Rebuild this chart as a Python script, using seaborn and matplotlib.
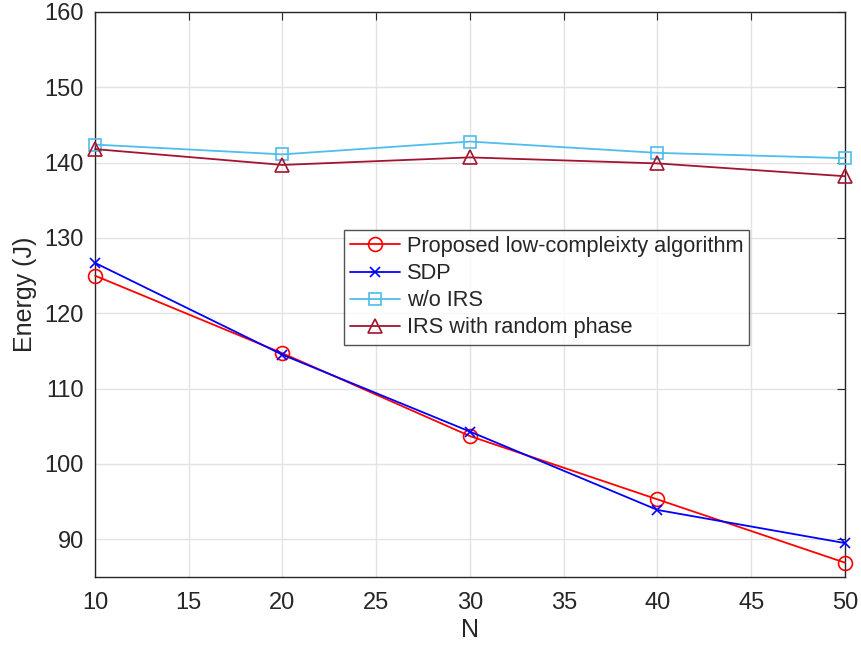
import matplotlib
matplotlib.use("Agg")
import matplotlib.pyplot as plt
import seaborn as sns
import pandas as pd

N = [10, 20, 30, 40, 50]
proposed = [125.0, 114.7, 103.7, 95.3, 86.9]
sdp = [126.7, 114.5, 104.3, 93.9, 89.5]
wo_irs = [142.4, 141.1, 142.8, 141.3, 140.6]
random_phase = [141.8, 139.7, 140.7, 139.9, 138.2]

labels = ["Proposed low-compleixty algorithm", "SDP", "w/o IRS", "IRS with random phase"]
series = [proposed, sdp, wo_irs, random_phase]
colors = ["#FF0000", "#0000FF", "#4DBEEE", "#A2142F"]
markers = ["o", "x", "s", "^"]
msizes = [10, 7, 8, 10]

sns.set_style("white")
plt.rcParams["font.family"] = ["Liberation Sans", "DejaVu Sans"]

fig = plt.figure(figsize=(8.62, 6.49), dpi=100)
ax = fig.add_axes([95/862, 1-577/649, 750/862, 565/649])

for lab, vals, c, m, ms in zip(labels, series, colors, markers, msizes):
    df = pd.DataFrame({"N": N, "E": vals})
    sns.lineplot(data=df, x="N", y="E", ax=ax, color=c, marker=m, markersize=ms,
                 markerfacecolor="none", markeredgecolor=c, markeredgewidth=1.2,
                 linewidth=1.3, label=lab, clip_on=False, zorder=3)

ax.set_xlim(10, 50)
ax.set_ylim(85, 160)
ax.set_xticks(range(10, 51, 5))
ax.set_yticks(range(90, 161, 10))
ax.grid(True, color="#E3E3E3", linewidth=1.0)
ax.set_axisbelow(True)
for s in ax.spines.values():
    s.set_color("#262626")
    s.set_linewidth(1.0)
ax.tick_params(direction="in", length=6, width=0.8, colors="#262626",
               labelsize=17, top=True, right=True)
ax.tick_params(axis="x", pad=11)
ax.tick_params(axis="y", pad=8)
ax.set_xlabel("N", fontsize=18, color="#262626", labelpad=3)
ax.set_ylabel("Energy (J)", fontsize=18, color="#262626", labelpad=5)

leg = ax.legend(loc="upper left", bbox_to_anchor=((344-95)/750, (577-230)/565),
                borderaxespad=0, fontsize=15.7, frameon=True, fancybox=False,
                handlelength=2.3, handletextpad=0.3, labelspacing=0.28,
                borderpad=0.28, edgecolor="#262626")
leg.get_frame().set_linewidth(1.0)

fig.savefig("out.png", dpi=100)
